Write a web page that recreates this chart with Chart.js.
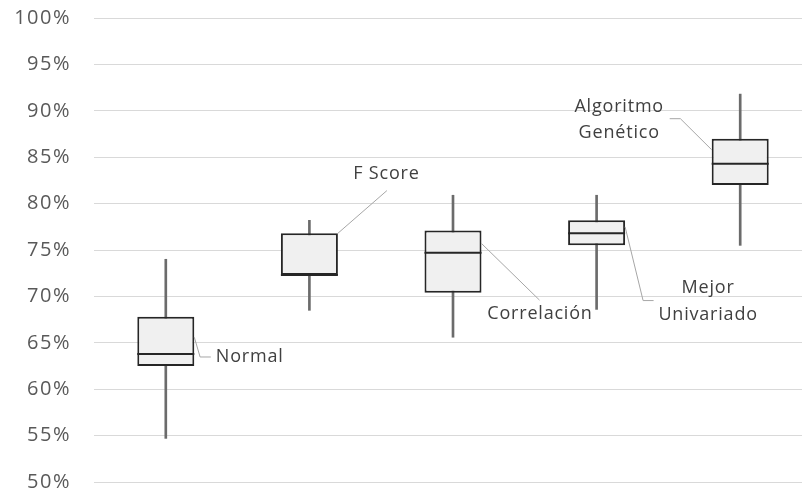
<!DOCTYPE html>
<html>
<head>
<meta charset="utf-8">
<script src="https://cdn.jsdelivr.net/npm/chart.js@4/dist/chart.umd.min.js"></script>
<style>
  html, body { margin: 0; padding: 0; background: #fff; overflow: hidden; }
</style>
</head>
<body>
<canvas id="box-chart" width="812" height="496"></canvas>
<script>
// box plot values (percent)
const categories = ["Normal", "F Score", "Correlación", "Mejor Univariado", "Algoritmo Genético"];
const minValues = [54.7, 68.5, 65.6, 68.6, 75.5];
const q1Values = [62.5, 72.3, 70.4, 75.5, 82.0];
const medianValues = [63.8, 72.3, 74.7, 76.8, 84.3];
const q3Values = [67.8, 76.8, 77.1, 78.2, 87.0];
const maxValues = [74.0, 78.2, 80.9, 80.9, 91.8];

// y axis ticks
const tickValues = [50, 55, 60, 65, 70, 75, 80, 85, 90, 95, 100];

// label text lines for each box
const labelLines = [["Normal"], ["F Score"], ["Correlación"], ["Mejor", "Univariado"], ["Algoritmo", "Genético"]];

// label placement: text anchor [dx px from box centre, value], align, leader path
const labelPlacement = [
  { text: [50, 63.47], align: "left", path: [[28.5, 65.6], [34.3, 63.47], [45, 63.47]] },
  { text: [77, 83.2], align: "center", path: [[28.5, 76.8], [77.5, 81.4]] },
  { text: [87, 68.1], align: "center", path: [[28.5, 75.7], [86.5, 69.6]] },
  { text: [111.5, 70.9], align: "center", path: [[28.5, 77.5], [46.5, 69.55], [57, 69.55]] },
  { text: [-121, 90.45], align: "center", path: [[-70.5, 89.15], [-59.8, 89.15], [-28.5, 85.8]] }
];

const boxWhiskers = [];
const boxBodies = [];
for (let i = 0; i < categories.length; i++) {
  boxWhiskers.push([minValues[i], maxValues[i]]);
  boxBodies.push([q1Values[i], q3Values[i]]);
}

// draws the callout labels and their leader lines
const calloutPlugin = {
  id: "callouts",
  afterDatasetsDraw(chart) {
    const ctx = chart.ctx;
    const x = chart.scales.x;
    const y = chart.scales.y;
    ctx.save();
    ctx.letterSpacing = "0.8px";
    for (let i = 0; i < categories.length; i++) {
      const cx = x.getPixelForValue(i);
      const p = labelPlacement[i];

      ctx.strokeStyle = "#a6a6a6";
      ctx.lineWidth = 1;
      ctx.beginPath();
      p.path.forEach(function (pt, k) {
        const px = cx + pt[0];
        const py = y.getPixelForValue(pt[1]);
        if (k === 0) ctx.moveTo(px, py);
        else ctx.lineTo(px, py);
      });
      ctx.stroke();

      ctx.fillStyle = "#404040";
      ctx.font = "18px 'Open Sans'";
      ctx.textAlign = p.align;
      ctx.textBaseline = "middle";
      const tx = cx + p.text[0];
      const ty = y.getPixelForValue(p.text[1]);
      labelLines[i].forEach(function (line, k) {
        ctx.fillText(line, tx, ty + k * 26.5);
      });
    }
    ctx.restore();
  }
};

// wider tick text
const spacingPlugin = {
  id: "spacing",
  beforeLayout(chart) { chart.ctx.letterSpacing = "1.5px"; },
  beforeDraw(chart) { chart.ctx.letterSpacing = "1.5px"; }
};

const ctx = document.getElementById("box-chart").getContext("2d");
new Chart(ctx, {
  type: "bar",
  data: {
    labels: categories,
    datasets: [
      {
        type: "line",
        label: "Median",
        data: medianValues,
        showLine: false,
        pointStyle: "line",
        pointRadius: 28.5,
        pointBorderWidth: 2,
        pointBorderColor: "#262626",
        order: 0
      },
      {
        label: "Box",
        data: boxBodies,
        backgroundColor: "#f0f0f0",
        borderColor: "#262626",
        borderWidth: 2,
        borderSkipped: false,
        grouped: false,
        categoryPercentage: 1,
        barPercentage: 0.397,
        order: 1
      },
      {
        label: "Whisker",
        data: boxWhiskers,
        backgroundColor: "#6b6b6b",
        barThickness: 2,
        grouped: false,
        order: 2
      }
    ]
  },
  options: {
    responsive: false,
    animation: false,
    events: [],
    layout: { autoPadding: false, padding: { top: 18, bottom: 14, left: 0, right: 0 } },
    plugins: {
      legend: { display: false },
      tooltip: { enabled: false }
    },
    scales: {
      x: { display: false, offset: true },
      y: {
        min: 50,
        max: 100,
        afterBuildTicks(scale) {
          scale.ticks = tickValues.map(function (v) { return { value: v }; });
        },
        afterFit(scale) {
          scale.width = 94;
          scale.paddingTop = 0;
          scale.paddingBottom = 0;
        },
        ticks: {
          padding: 23,
          color: "#595959",
          font: { family: "'Open Sans'", size: 20 },
          callback: function (v) { return v + "%"; }
        },
        grid: { color: "#d9d9d9", lineWidth: 1, drawTicks: false },
        border: { display: false }
      }
    }
  },
  plugins: [spacingPlugin, calloutPlugin]
});
</script>
</body>
</html>
